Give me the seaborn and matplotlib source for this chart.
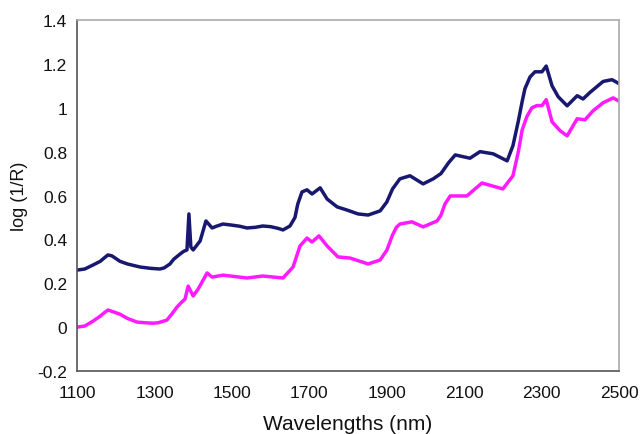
import matplotlib
matplotlib.use("Agg")
import matplotlib.pyplot as plt
import seaborn as sns
import pandas as pd
from matplotlib.ticker import FuncFormatter

sns.set_style("white")
plt.rcParams['font.family'] = ['Liberation Sans', 'DejaVu Sans']

# Upper spectrum (navy)
navy_nm = [1100, 1120, 1141, 1160, 1170, 1180, 1190, 1211, 1230, 1263, 1290, 1314, 1325,
           1340, 1350, 1366, 1375, 1384, 1389, 1394, 1400,
           1418, 1433, 1440, 1449, 1460, 1477, 1500, 1520, 1539, 1560, 1580, 1600, 1620,
           1632, 1650, 1663, 1670, 1681, 1694, 1707,
           1728, 1746, 1772, 1797, 1826, 1852, 1883, 1900, 1915, 1934, 1960, 1994, 2020,
           2040, 2060, 2077,
           2115, 2141, 2175, 2211, 2226, 2240, 2250, 2257, 2270, 2283, 2301, 2312, 2327,
           2343, 2366, 2392, 2407, 2425, 2459, 2482, 2500]
navy_val = [0.26, 0.265, 0.283, 0.30, 0.315, 0.329, 0.325, 0.30, 0.288, 0.274, 0.268, 0.265,
            0.27, 0.288, 0.31, 0.333, 0.345, 0.352, 0.516, 0.365, 0.352,
            0.393, 0.484, 0.47, 0.452, 0.46, 0.47, 0.465, 0.46, 0.452, 0.455, 0.461, 0.458,
            0.45, 0.443, 0.461, 0.50, 0.56, 0.616, 0.626, 0.607,
            0.635, 0.584, 0.548, 0.534, 0.516, 0.511, 0.53, 0.57, 0.63, 0.676, 0.69, 0.653,
            0.676, 0.70, 0.75, 0.785,
            0.77, 0.80, 0.79, 0.758, 0.827, 0.94, 1.03, 1.087, 1.14, 1.164, 1.164, 1.19, 1.10,
            1.05, 1.009, 1.055, 1.04, 1.07, 1.12, 1.128, 1.11]

# Lower spectrum (magenta)
mag_nm = [1100, 1120, 1141, 1160, 1170, 1180, 1190, 1211, 1230, 1255, 1275, 1296, 1310,
          1332, 1345, 1358, 1368, 1379, 1387, 1400, 1413,
          1436, 1449, 1477, 1539, 1580, 1632, 1658, 1676, 1694, 1707, 1725, 1746,
          1774, 1805, 1831, 1852, 1883, 1900, 1915, 1925, 1934, 1965, 1994, 2030, 2040,
          2050, 2064, 2107, 2146,
          2200, 2226, 2240, 2250, 2262, 2275, 2288, 2301, 2312, 2327, 2348, 2366, 2392,
          2412, 2433, 2459, 2485, 2500]
mag_val = [0.0, 0.005, 0.027, 0.05, 0.065, 0.078, 0.072, 0.059, 0.04, 0.023, 0.02, 0.018,
           0.02, 0.032, 0.06, 0.091, 0.11, 0.128, 0.187, 0.142, 0.174,
           0.247, 0.228, 0.237, 0.224, 0.233, 0.224, 0.274, 0.37, 0.406, 0.388, 0.416, 0.37,
           0.32, 0.315, 0.30, 0.288, 0.306, 0.35, 0.42, 0.455, 0.47, 0.48, 0.457, 0.484,
           0.51, 0.56, 0.598, 0.598, 0.657,
           0.63, 0.69, 0.80, 0.90, 0.96, 1.0, 1.01, 1.01, 1.037, 0.936, 0.895, 0.872, 0.95,
           0.945, 0.986, 1.023, 1.045, 1.03]

x_ticks = [1100, 1300, 1500, 1700, 1900, 2100, 2300, 2500]
y_ticks = [-0.2, 0, 0.2, 0.4, 0.6, 0.8, 1, 1.2, 1.4]

fig = plt.figure(figsize=(6.43, 4.35), dpi=100)
ax = fig.add_axes([0.1198, 0.1448, 0.9627 - 0.1198, 0.9517 - 0.1448])

df1 = pd.DataFrame({"nm": navy_nm, "val": navy_val})
df2 = pd.DataFrame({"nm": mag_nm, "val": mag_val})
sns.lineplot(data=df1, x="nm", y="val", ax=ax, color="#181870", linewidth=2.5)
sns.lineplot(data=df2, x="nm", y="val", ax=ax, color="#ff1aff", linewidth=2.5)

ax.set_xlim(1100, 2500)
ax.set_ylim(-0.2, 1.4)
ax.set_xticks(x_ticks)
ax.set_yticks(y_ticks)
ax.yaxis.set_major_formatter(FuncFormatter(lambda v, p: f"{v:g}" if abs(v) > 1e-9 else "0"))
ax.tick_params(direction="in", length=4, width=1, colors="#555555", labelcolor="#111111",
               labelsize=12.5)
ax.tick_params(axis="x", pad=10)
ax.tick_params(axis="y", pad=7)
for s in ["left", "bottom"]:
    ax.spines[s].set_color("#555555")
    ax.spines[s].set_linewidth(1.2)
for s in ["top", "right"]:
    ax.spines[s].set_color("#aaaaaa")
    ax.spines[s].set_linewidth(1.2)

ax.set_xlabel("Wavelengths (nm)", fontsize=15, color="#111111", labelpad=10)
ax.set_ylabel("log (1/R)", fontsize=13, color="#111111", labelpad=7)

fig.savefig("out.png", dpi=100)
